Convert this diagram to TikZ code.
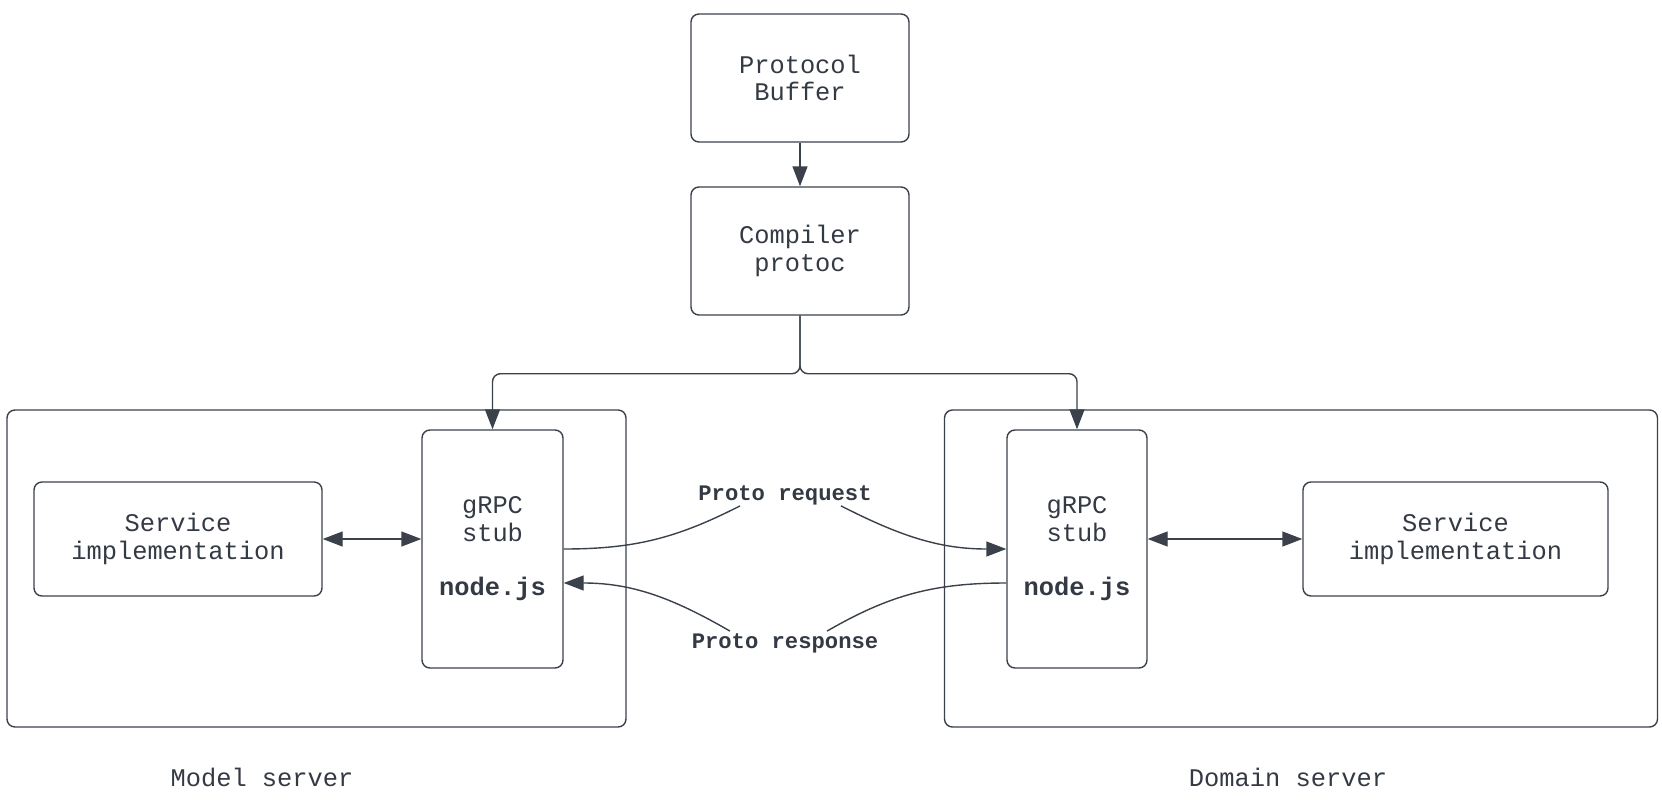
\documentclass[tikz,border=0pt]{standalone}
\usepackage{fontspec}
\setmainfont{Liberation Mono}
\usetikzlibrary{arrows.meta,calc}
\definecolor{ink}{HTML}{3A414B}
\definecolor{txt}{HTML}{343A44}
\tikzset{
  box/.style={draw=ink, line width=1.4pt, rounded corners=8pt, inner sep=0pt, align=center,
    text=txt, font=\fontsize{25.4}{27.4}\selectfont},
  conn/.style={draw=ink, line width=1.4pt, -{Triangle[length=20pt,width=15pt]}},
  dconn/.style={draw=ink, line width=1.4pt, {Triangle[length=20pt,width=15pt]}-{Triangle[length=20pt,width=15pt]}},
  lbl/.style={text=txt, font=\fontsize{22.2}{24}\selectfont\bfseries, inner sep=1pt},
  srvcaption/.style={text=txt, font=\fontsize{25.4}{27.4}\selectfont},
}
\begin{document}
\begin{tikzpicture}[x=1pt,y=-1pt]
\useasboundingbox (0,0) rectangle (1662,808);
% outer server boxes
\node[box, minimum width=619pt, minimum height=317pt] (model) at (316.5,568.5) {};
\node[box, minimum width=713pt, minimum height=317pt] (domain) at (1301,568.5) {};
% top
\node[box, minimum width=218pt, minimum height=128pt] (pb) at (800,78) {Protocol\\Buffer};
\node[box, minimum width=218pt, minimum height=128pt] (comp) at (800,251) {Compiler\\protoc};
% stubs
\node[box, minimum width=141pt, minimum height=238pt] (ls) at (492.5,549) {gRPC\\stub\\[27.4pt]\textbf{node.js}};
\node[box, minimum width=140pt, minimum height=238pt] (rs) at (1077,549) {gRPC\\stub\\[27.4pt]\textbf{node.js}};
% services
\node[box, minimum width=288pt, minimum height=114pt] (lsvc) at (178,539) {Service\\implementation};
\node[box, minimum width=305pt, minimum height=114pt] (rsvc) at (1455.5,539) {Service\\implementation};
% captions
\node[srvcaption] (mcap) at (262,777) {Model server};
\node[srvcaption] (dcap) at (1288,777) {Domain server};
% labels
\node[lbl] (req) at (785,495) {Proto request};
\node[lbl] (resp) at (785,643) {Proto response};
% connectors
\draw[conn] (pb.south) -- (comp.north);
\draw[conn, rounded corners=8pt] (comp.south) -- ($(comp.south)+(0,58)$) -| (ls.north);
\draw[conn, rounded corners=8pt] (comp.south) -- ($(comp.south)+(0,58)$) -| (rs.north);
\draw[dconn] (lsvc.east) -- (lsvc.east -| ls.west);
\draw[dconn] (rs.east |- rsvc.west) -- (rsvc.west);
% request
\draw[draw=ink, line width=1.4pt] (ls.east) to[out=0,in=207] ($(req.south)+(-45,0)$);
\draw[conn] ($(req.south)+(56,0)$) to[out=-27,in=180] (rs.west);
% response
\draw[draw=ink, line width=1.4pt] ($(rs.west)+(0,34)$) to[out=180,in=30] ($(resp.north)+(42,-1)$);
\draw[conn] ($(resp.north)+(-55,-1)$) to[out=150,in=0] ($(ls.east)+(0,34)$);
\end{tikzpicture}
\end{document}
